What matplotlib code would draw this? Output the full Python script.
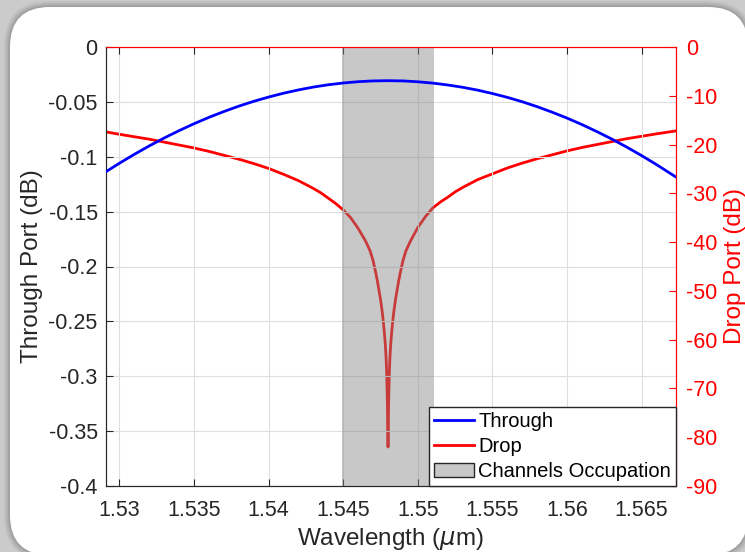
"""
Through / drop port response of the ring filter with the channel band shaded.
"""

import matplotlib
matplotlib.use("Agg")
import matplotlib.pyplot as plt
from matplotlib.patches import Patch, FancyBboxPatch
from matplotlib.transforms import IdentityTransform

plt.rcParams["font.family"] = ["Liberation Sans", "DejaVu Sans"]
plt.rcParams["mathtext.fontset"] = "dejavusans"

# through port (dB, left axis)
wl_through = [1.5291, 1.530, 1.531, 1.532, 1.533, 1.534, 1.535, 1.536, 1.537,
              1.538, 1.539, 1.540, 1.541, 1.542, 1.543, 1.544, 1.545, 1.546,
              1.547, 1.548, 1.549, 1.550, 1.551, 1.552, 1.553, 1.554, 1.555,
              1.556, 1.557, 1.558, 1.559, 1.560, 1.561, 1.562, 1.563, 1.564,
              1.565, 1.566, 1.567, 1.5673]
through_db = [-0.1136, -0.1059, -0.0978, -0.0901, -0.0829, -0.0762, -0.0699,
              -0.0641, -0.0588, -0.0539, -0.0495, -0.0456, -0.0421, -0.0391,
              -0.0365, -0.0344, -0.0328, -0.0316, -0.0309, -0.0307, -0.0309,
              -0.0317, -0.0329, -0.0346, -0.0367, -0.0393, -0.0424, -0.0459,
              -0.0499, -0.0544, -0.0594, -0.0648, -0.0707, -0.0771, -0.0839,
              -0.0912, -0.0990, -0.1072, -0.1159, -0.1185]

# drop port (dB, right axis), denser sampling around the resonance
wl_drop = [1.5291, 1.530, 1.531, 1.532, 1.533, 1.534, 1.535, 1.536, 1.537,
           1.538, 1.539, 1.540, 1.541, 1.542, 1.543, 1.5435, 1.544, 1.5445,
           1.545, 1.5455, 1.546, 1.54625, 1.5465, 1.54665, 1.5468, 1.5469,
           1.547, 1.5471, 1.5472, 1.5473, 1.5474, 1.5475, 1.5476, 1.54765,
           1.5477, 1.54775, 1.5478, 1.54785, 1.54788, 1.5479, 1.54792,
           1.54794, 1.54796, 1.54798, 1.548,
           1.54802, 1.54804, 1.54806, 1.54808, 1.5481, 1.54812, 1.54815,
           1.5482, 1.54825, 1.5483, 1.54835, 1.5484, 1.5485, 1.5486, 1.5487,
           1.5488, 1.5489, 1.549, 1.5491, 1.5492, 1.54935, 1.5495, 1.54975,
           1.550, 1.5505, 1.551, 1.5515, 1.552, 1.5525, 1.553, 1.554, 1.555,
           1.556, 1.557, 1.558, 1.559, 1.560, 1.561, 1.562, 1.563, 1.564,
           1.565, 1.566, 1.5673]
drop_db = [-17.4, -17.9, -18.4, -18.9, -19.5, -20.1, -20.7, -21.4, -22.2,
           -23.0, -23.9, -24.9, -26.1, -27.4, -29.0, -29.9, -31.0, -32.1,
           -33.4, -35.0, -37.2, -38.5, -39.8, -40.8, -41.8, -42.8,
           -43.8, -45.2, -46.6, -48.2, -50.0, -51.8, -54.0, -55.3,
           -56.8, -58.4, -60.2, -62.5, -64.3, -66.0, -68.0,
           -70.4, -73.5, -78.0, -82.0,
           -78.0, -73.5, -70.4, -68.0, -66.0, -64.3, -62.5,
           -60.2, -58.4, -56.8, -55.3, -54.0, -51.8, -50.0, -48.2,
           -46.6, -45.2, -43.8, -42.8, -41.8, -40.8, -39.8, -38.4,
           -37.0, -34.8, -33.0, -31.8, -30.8, -29.7, -28.8, -27.2, -26.0,
           -24.8, -23.8, -22.9, -22.1, -21.3, -20.6, -20.0, -19.4, -18.8,
           -18.3, -17.8, -17.2]

band = [1.5449, 1.5511]

xticks = [1.53, 1.535, 1.54, 1.545, 1.55, 1.555, 1.56, 1.565]
xticklabels = ["1.53", "1.535", "1.54", "1.545", "1.55", "1.555", "1.56", "1.565"]
yticks_left = [0, -0.05, -0.1, -0.15, -0.2, -0.25, -0.3, -0.35, -0.4]
yticklabels_left = ["0", "-0.05", "-0.1", "-0.15", "-0.2", "-0.25", "-0.3", "-0.35", "-0.4"]
yticks_right = [0, -10, -20, -30, -40, -50, -60, -70, -80, -90]
yticklabels_right = ["0", "-10", "-20", "-30", "-40", "-50", "-60", "-70", "-80", "-90"]

DARK = "#262626"
SHADE = (0.52, 0.52, 0.52)

fig = plt.figure(figsize=(7.45, 5.52), dpi=100, facecolor="#cbcbcb")

# white rounded card with a soft shadow behind it
for grow, alpha in [(6, 0.05), (4, 0.07), (2, 0.09)]:
    fig.add_artist(FancyBboxPatch((10 - grow, -3 - grow), 738 + 2 * grow, 548 + 2 * grow,
                                  boxstyle="round,pad=0,rounding_size=%d" % (40 + grow),
                                  transform=IdentityTransform(), facecolor="black",
                                  edgecolor="none", alpha=alpha, zorder=-11))
fig.add_artist(FancyBboxPatch((10, -3), 738, 548, boxstyle="round,pad=0,rounding_size=40",
                              transform=IdentityTransform(), facecolor="white",
                              edgecolor="none", zorder=-10))

ax = fig.add_axes([106 / 745, 66 / 552, 570 / 745, 439 / 552])
ax2 = ax.twinx()
ax.set_zorder(ax2.get_zorder() + 1)
ax.patch.set_visible(False)
ax2.patch.set_facecolor("white")

line_drop, = ax2.plot(wl_drop, drop_db, color=(1, 0, 0), lw=2,
                      solid_joinstyle="round")
ax.axvspan(band[0], band[1], facecolor=SHADE, alpha=0.45, edgecolor="none", zorder=1)
line_through, = ax.plot(wl_through, through_db, color=(0, 0, 1), lw=2, zorder=3,
                        solid_joinstyle="round")

ax.set_xlim(wl_through[0], wl_through[-1])
ax.set_ylim(-0.4, 0)
ax2.set_ylim(-90, 0)

ax.set_xticks(xticks)
ax.set_xticklabels(xticklabels)
ax.set_yticks(yticks_left)
ax.set_yticklabels(yticklabels_left)
ax2.set_yticks(yticks_right)
ax2.set_yticklabels(yticklabels_right)

ax.set_axisbelow(True)
ax.grid(True, color="#dedede", lw=0.8)

for a in (ax, ax2):
    a.spines["left"].set_color(DARK)
    a.spines["bottom"].set_color(DARK)
    a.spines["top"].set_color("red")
    a.spines["right"].set_color("red")
    for s in a.spines.values():
        s.set_linewidth(0.8)

ax.tick_params(axis="x", direction="in", length=5, width=0.8, top=True,
               colors=DARK, labelsize=15.5, pad=10)
ax.tick_params(axis="y", direction="in", length=5, width=0.8, right=False,
               colors=DARK, labelsize=15.5, pad=6)
ax2.tick_params(axis="y", direction="in", length=5, width=0.8,
                colors="red", labelsize=15.5, pad=7)

ax.set_xlabel("Wavelength ($\\mu$m)", fontsize=17.5, color=DARK)
ax.xaxis.set_label_coords(0.5, -0.09)
ax.set_ylabel("Through Port (dB)", fontsize=17.5, color=DARK)
ax.yaxis.set_label_coords(-0.11, 0.5)
ax2.set_ylabel("Drop Port (dB)", fontsize=17.5, color="red")
ax2.yaxis.set_label_coords(1.084, 0.5)

handles = [line_through, line_drop,
           Patch(facecolor="#c8c8c8", edgecolor=DARK, lw=1)]
leg = ax.legend(handles, ["Through", "Drop", "Channels Occupation"],
                loc="lower right", bbox_to_anchor=(1, 0), borderaxespad=0,
                fancybox=False, framealpha=1, edgecolor=DARK, fontsize=14.5,
                handlelength=2.0, handletextpad=0.2, labelspacing=0.3,
                borderpad=0.25)
leg.get_frame().set_linewidth(1.0)

fig.savefig("out.png", dpi=100, facecolor=fig.get_facecolor())
plt.close(fig)
